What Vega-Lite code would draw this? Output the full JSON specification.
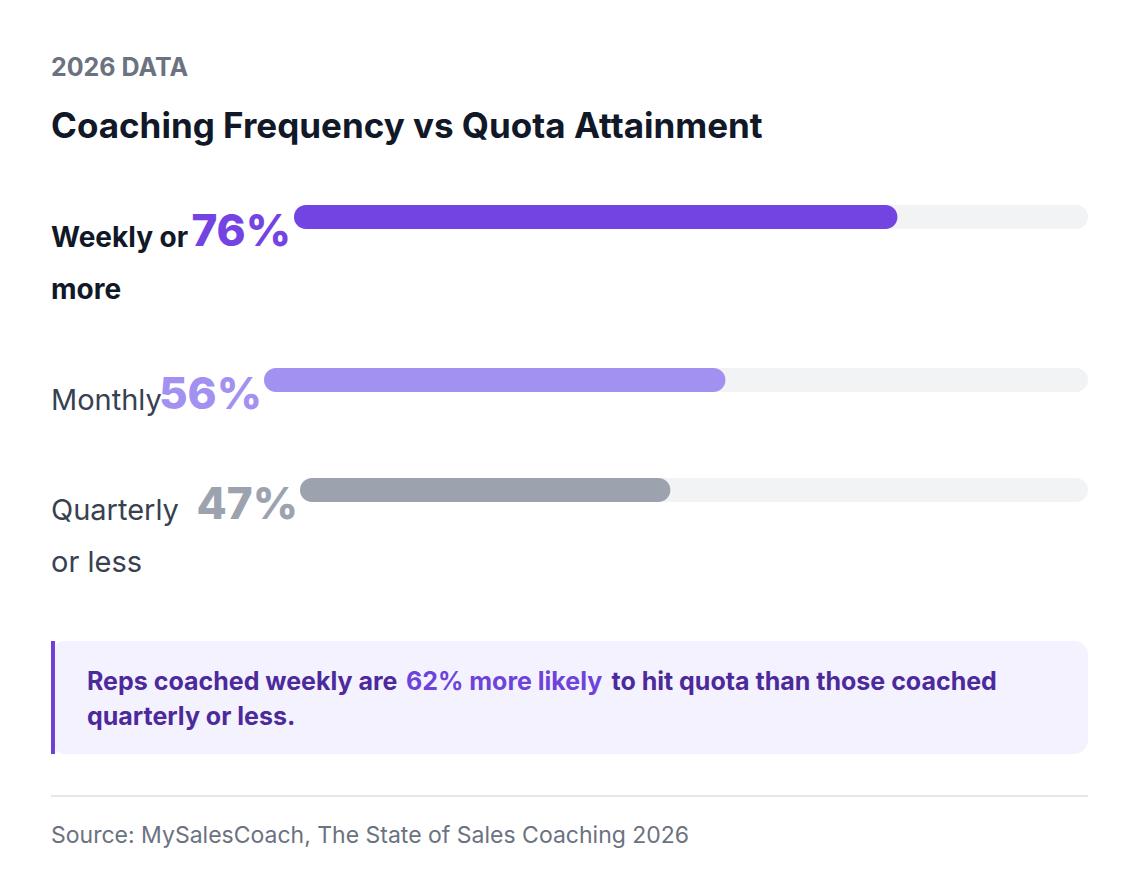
{
  "$schema": "https://vega.github.io/schema/vega-lite/v6.json",
  "background": "#ffffff",
  "padding": {"left": 50, "top": 56, "right": 49, "bottom": 0},
  "config": {
    "font": "Inter",
    "view": {"stroke": null},
    "text": {"font": "Inter"}
  },
  "title": {
    "text": "2026 DATA",
    "subtitle": "Coaching Frequency vs Quota Attainment",
    "anchor": "start",
    "frame": "group",
    "font": "Inter",
    "fontSize": 25,
    "fontWeight": 700,
    "color": "#6b7280",
    "subtitleFont": "Inter",
    "subtitleFontSize": 35,
    "subtitleFontWeight": 700,
    "subtitleColor": "#111827",
    "subtitlePadding": 29,
    "offset": 60
  },
  "datasets": {
    "rows": [
      {"frequency": "Weekly or more", "label": "Weekly or\nmore", "attainment": 0.76},
      {"frequency": "Monthly", "label": "Monthly", "attainment": 0.56},
      {"frequency": "Quarterly or less", "label": "Quarterly\nor less", "attainment": 0.47}
    ]
  },
  "bounds": "flush",
  "spacing": 42,
  "vconcat": [
    {
      "width": 1037,
      "height": 121,
      "data": {"name": "rows"},
      "transform": [{"filter": "datum.frequency === 'Weekly or more'"}],
      "layer": [
        {
          "mark": {"type": "bar", "color": "#f2f3f5", "cornerRadius": 12},
          "encoding": {
            "y": {"field": "frequency", "type": "nominal", "axis": null, "scale": {"paddingInner": 0.505, "paddingOuter": 1, "align": 0, "round": false}},
            "x": {"datum": 1, "type": "quantitative", "scale": {"domain": [-0.306, 1], "nice": false, "zero": false}, "axis": null},
            "x2": {"datum": 0}
          }
        },
        {
          "mark": {"type": "bar", "color": "#7444e3", "cornerRadius": 12},
          "encoding": {
            "y": {"field": "frequency", "type": "nominal"},
            "x": {"field": "attainment", "type": "quantitative"},
            "x2": {"datum": 0}
          }
        },
        {
          "mark": {"type": "text", "align": "right", "baseline": "alphabetic", "dx": -3, "dy": 29, "fontSize": 44, "fontWeight": 800, "color": "#7444e3"},
          "encoding": {
            "y": {"field": "frequency", "type": "nominal"},
            "x": {"datum": 0, "type": "quantitative"},
            "text": {"field": "attainment", "type": "quantitative", "format": ".0%"}
          }
        },
        {
          "mark": {"type": "text", "align": "left", "baseline": "alphabetic", "dy": 30, "fontSize": 28, "fontWeight": 700, "color": "#111827", "lineBreak": "\n", "lineHeight": 52},
          "encoding": {
            "y": {"field": "frequency", "type": "nominal"},
            "x": {"datum": -0.306, "type": "quantitative"},
            "text": {"field": "label", "type": "nominal"}
          }
        }
      ]
    },
    {
      "width": 1037,
      "height": 68,
      "data": {"name": "rows"},
      "transform": [{"filter": "datum.frequency === 'Monthly'"}],
      "layer": [
        {
          "mark": {"type": "bar", "color": "#f2f3f5", "cornerRadius": 12},
          "encoding": {
            "y": {"field": "frequency", "type": "nominal", "axis": null, "scale": {"paddingInner": 0, "paddingOuter": 0.9167, "align": 0, "round": false}},
            "x": {"datum": 1, "type": "quantitative", "scale": {"domain": [-0.2585, 1], "nice": false, "zero": false}, "axis": null},
            "x2": {"datum": 0}
          }
        },
        {
          "mark": {"type": "bar", "color": "#a391f2", "cornerRadius": 12},
          "encoding": {
            "y": {"field": "frequency", "type": "nominal"},
            "x": {"field": "attainment", "type": "quantitative"},
            "x2": {"datum": 0}
          }
        },
        {
          "mark": {"type": "text", "align": "right", "baseline": "alphabetic", "dx": -2, "dy": 29, "fontSize": 44, "fontWeight": 800, "color": "#a391f2"},
          "encoding": {
            "y": {"field": "frequency", "type": "nominal"},
            "x": {"datum": 0, "type": "quantitative"},
            "text": {"field": "attainment", "type": "quantitative", "format": ".0%"}
          }
        },
        {
          "mark": {"type": "text", "align": "left", "baseline": "alphabetic", "dy": 30, "fontSize": 29, "fontWeight": 400, "color": "#374151", "lineBreak": "\n", "lineHeight": 52},
          "encoding": {
            "y": {"field": "frequency", "type": "nominal"},
            "x": {"datum": -0.2585, "type": "quantitative"},
            "text": {"field": "label", "type": "nominal"}
          }
        }
      ]
    },
    {
      "width": 1037,
      "height": 121,
      "data": {"name": "rows"},
      "transform": [{"filter": "datum.frequency === 'Quarterly or less'"}],
      "layer": [
        {
          "mark": {"type": "bar", "color": "#f2f3f5", "cornerRadius": 12},
          "encoding": {
            "y": {"field": "frequency", "type": "nominal", "axis": null, "scale": {"paddingInner": 0.505, "paddingOuter": 1, "align": 0, "round": false}},
            "x": {"datum": 1, "type": "quantitative", "scale": {"domain": [-0.316, 1], "nice": false, "zero": false}, "axis": null},
            "x2": {"datum": 0}
          }
        },
        {
          "mark": {"type": "bar", "color": "#9ca3af", "cornerRadius": 12},
          "encoding": {
            "y": {"field": "frequency", "type": "nominal"},
            "x": {"field": "attainment", "type": "quantitative"},
            "x2": {"datum": 0}
          }
        },
        {
          "mark": {"type": "text", "align": "right", "baseline": "alphabetic", "dx": -2, "dy": 29, "fontSize": 44, "fontWeight": 800, "color": "#9ca3af"},
          "encoding": {
            "y": {"field": "frequency", "type": "nominal"},
            "x": {"datum": 0, "type": "quantitative"},
            "text": {"field": "attainment", "type": "quantitative", "format": ".0%"}
          }
        },
        {
          "mark": {"type": "text", "align": "left", "baseline": "alphabetic", "dy": 30, "fontSize": 29, "fontWeight": 400, "color": "#374151", "lineBreak": "\n", "lineHeight": 52},
          "encoding": {
            "y": {"field": "frequency", "type": "nominal"},
            "x": {"datum": -0.316, "type": "quantitative"},
            "text": {"field": "label", "type": "nominal"}
          }
        }
      ]
    },
    {
      "width": 1037,
      "height": 113,
      "view": {"fill": "#f4f2fe", "cornerRadius": 14, "stroke": null},
      "data": {"values": [{"lead": "Reps coached weekly are\nquarterly or less.", "highlight": "62% more likely", "tail": "to hit quota than those coached"}]},
      "layer": [
        {
          "mark": {"type": "rule", "color": "#6e3fd9", "strokeWidth": 4},
          "encoding": {"x": {"datum": 0.19, "type": "quantitative", "scale": {"domain": [0, 100], "nice": false, "zero": false}, "axis": null}}
        },
        {
          "mark": {"type": "text", "align": "left", "baseline": "alphabetic", "dy": -7.5, "fontSize": 25, "fontWeight": 700, "color": "#4c2a9c", "lineBreak": "\n", "lineHeight": 35},
          "encoding": {"x": {"datum": 3.47, "type": "quantitative"}, "text": {"field": "lead", "type": "nominal"}}
        },
        {
          "mark": {"type": "text", "align": "left", "baseline": "alphabetic", "dy": -7.5, "fontSize": 25, "fontWeight": 700, "color": "#6d44db"},
          "encoding": {"x": {"datum": 34.23, "type": "quantitative"}, "text": {"field": "highlight", "type": "nominal"}}
        },
        {
          "mark": {"type": "text", "align": "left", "baseline": "alphabetic", "dy": -7.5, "fontSize": 25, "fontWeight": 700, "color": "#4c2a9c"},
          "encoding": {"x": {"datum": 54.05, "type": "quantitative"}, "text": {"field": "tail", "type": "nominal"}}
        }
      ]
    },
    {
      "width": 1037,
      "height": 50,
      "data": {"values": [{"source": "Source: MySalesCoach, The State of Sales Coaching 2026"}]},
      "layer": [
        {
          "mark": {"type": "rule", "color": "#e5e7eb", "strokeWidth": 2},
          "encoding": {"y": {"datum": 1, "type": "quantitative", "scale": {"domain": [0, 1], "nice": false, "zero": false}, "axis": null}}
        },
        {
          "mark": {"type": "text", "align": "left", "baseline": "alphabetic", "dy": -3, "fontSize": 23, "fontWeight": 400, "color": "#6b7280"},
          "encoding": {
            "y": {"datum": 0, "type": "quantitative"},
            "x": {"datum": 0, "type": "quantitative", "scale": {"domain": [0, 1], "nice": false, "zero": false}, "axis": null},
            "text": {"field": "source", "type": "nominal"}
          }
        }
      ]
    }
  ]
}
